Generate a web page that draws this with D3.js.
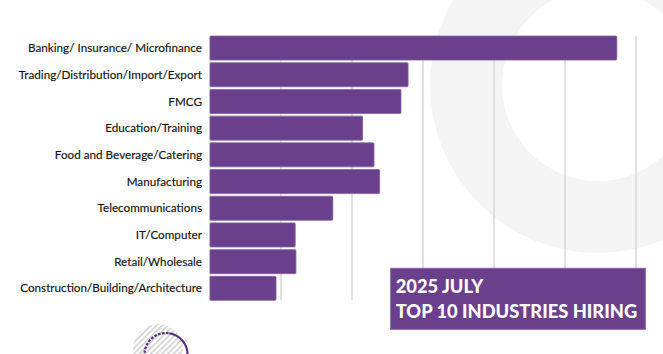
<!DOCTYPE html>
<html>
<head>
<meta charset="utf-8">
<script src="https://cdn.jsdelivr.net/npm/d3@7"></script>
<style>
body{margin:0;background:#fff;overflow:hidden;}
.IndustryLabels{font-family:"Lato",sans-serif;font-size:11.7px;fill:#141414;stroke:#141414;stroke-width:0.15px;}
.IndustryTitle{font-family:"Lato",sans-serif;font-weight:900;font-size:18.3px;fill:#fff;}
</style>
</head>
<body>
<div id="idIndustryChart"></div>
<script>
// values (grid step = 10)
var aIndustries=["Banking/ Insurance/ Microfinance","Trading/Distribution/Import/Export","FMCG","Education/Training","Food and Beverage/Catering","Manufacturing","Telecommunications","IT/Computer","Retail/Wholesale","Construction/Building/Architecture"];
var aJobCounts=[57.3,27.9,26.9,21.5,23.1,23.9,17.3,12.0,12.1,9.3];
var aGridTicks=[0,10,20,30,40,50,60];
var aTitleLines=["2025 JULY","TOP 10 INDUSTRIES HIRING"];

function DrawIndustries()
{
	var iWidth=663;
	var iHeight=354;
	var sContentLoc="#idIndustryChart";
	var sBarColor="#6a3f8c";
	var sBarEdge="#8462a3";

	var myCanvas=d3.select(sContentLoc).append("svg")
		.attr("width",iWidth)
		.attr("height",iHeight);

	// background decoration: big grey ring top right
	var myRing=d3.arc().innerRadius(96).outerRadius(168).startAngle(0).endAngle(2*Math.PI);
	myCanvas.append("path")
		.attr("d",myRing())
		.attr("transform","translate(598,85)")
		.attr("fill","#f4f4f4");

	// hatched + dotted circles bottom left
	var myDefs=myCanvas.append("defs");
	var myPattern=myDefs.append("pattern")
		.attr("id","idHatch")
		.attr("patternUnits","userSpaceOnUse")
		.attr("width",4).attr("height",4)
		.attr("patternTransform","rotate(45)");
	myPattern.append("rect").attr("width",1.6).attr("height",4).attr("fill","#cfcfcf");
	myCanvas.append("circle")
		.attr("cx",158).attr("cy",349).attr("r",25)
		.attr("fill","url(#idHatch)");
	var myDotArc=d3.arc().innerRadius(21.5).outerRadius(21.5);
	myCanvas.append("path")
		.attr("d",myDotArc({startAngle:-Math.PI,endAngle:0.15}))
		.attr("transform","translate(166,354.5)")
		.attr("fill","none").attr("stroke","#5b2d82").attr("stroke-width",2.2)
		.attr("stroke-dasharray","1.6 2.4");
	myCanvas.append("path")
		.attr("d",myDotArc({startAngle:0.15,endAngle:Math.PI}))
		.attr("transform","translate(166,354.5)")
		.attr("fill","none").attr("stroke","#5b2d82").attr("stroke-width",2.2);

	var xAxes=d3.scaleLinear().domain([0,60]).range([210,636]);
	var yAxes=d3.scaleBand().domain(aIndustries).range([34.7,301.7]).paddingInner(0.1).paddingOuter(0.05);

	var iGridTop=yAxes(aIndustries[0]);
	var iGridBottom=yAxes(aIndustries[aIndustries.length-1])+yAxes.bandwidth();

	myCanvas.append("g").selectAll("line")
		.data(aGridTicks)
		.join("line")
		.attr("x1",function(d){return xAxes(d);})
		.attr("x2",function(d){return xAxes(d);})
		.attr("y1",iGridTop)
		.attr("y2",iGridBottom)
		.attr("stroke","#d9d9d9")
		.attr("stroke-width",1.5);

	myCanvas.append("g").selectAll("rect")
		.data(aIndustries)
		.join("rect")
		.attr("x",xAxes(0))
		.attr("y",function(d){return yAxes(d);})
		.attr("width",function(d,i){return xAxes(aJobCounts[i])-xAxes(0);})
		.attr("height",yAxes.bandwidth())
		.attr("rx",1)
		.attr("fill",sBarColor)
		.attr("stroke",sBarEdge)
		.attr("stroke-width",0.8);

	myCanvas.append("g").selectAll("text")
		.data(aIndustries)
		.join("text")
		.attr("class","IndustryLabels")
		.attr("x",202)
		.attr("y",function(d){return yAxes(d)+yAxes.bandwidth()/2;})
		.attr("dy","0.35em")
		.attr("text-anchor","end")
		.text(function(d){return d;});

	// title box
	myCanvas.append("rect")
		.attr("x",390.7).attr("y",268.3)
		.attr("width",254.6).attr("height",61)
		.attr("fill",sBarColor)
		.attr("stroke",sBarEdge)
		.attr("stroke-width",1);

	myCanvas.append("g").selectAll("text")
		.data(aTitleLines)
		.join("text")
		.attr("class","IndustryTitle")
		.attr("x",395.7)
		.attr("y",function(d,i){return 292.7+i*25;})
		.text(function(d){return d;});
}

DrawIndustries();
</script>
</body>
</html>
